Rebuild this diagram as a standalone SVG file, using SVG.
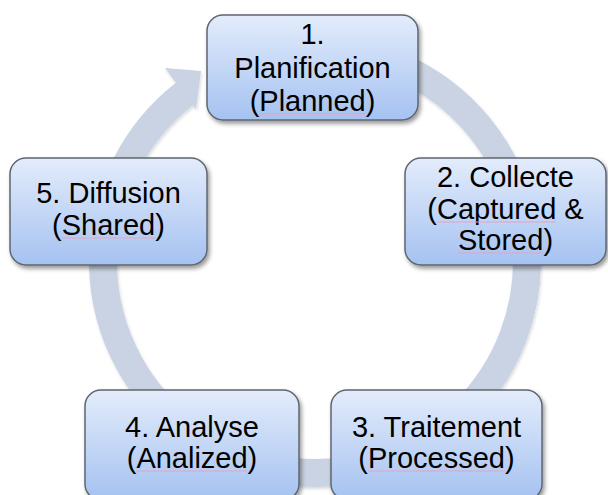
<svg xmlns="http://www.w3.org/2000/svg" width="608" height="495" viewBox="0 0 608 495">
<defs>
<linearGradient id="boxgrad" x1="0" y1="0" x2="0" y2="1">
<stop offset="0" stop-color="#e3ecfb"/>
<stop offset="1" stop-color="#a5c2f1"/>
</linearGradient>
<filter id="shadow" x="-10%" y="-10%" width="125%" height="130%">
<feDropShadow dx="2" dy="3" stdDeviation="2.2" flood-color="#000" flood-opacity="0.4"/>
</filter>
<filter id="ringshadow" x="-10%" y="-10%" width="120%" height="120%">
<feDropShadow dx="1" dy="2" stdDeviation="1.5" flood-color="#000" flood-opacity="0.15"/>
</filter>
</defs>
<style>
.box{fill:url(#boxgrad);stroke:#5f6670;stroke-width:1.5;filter:url(#shadow)}
.t{font-family:"Liberation Sans",Arial,sans-serif;font-size:29px;fill:#000;text-anchor:middle}
.sp{stroke:#e3a3bf;stroke-width:1;fill:none}
.ring{fill:none;stroke:#cad3e3;stroke-width:28}
.head{fill:#cad3e3}
</style>
<g id="connectors" filter="url(#ringshadow)">
<path class="ring" d="M333.5,49.8 A212,212 0 1 1 184.5,93.9"/>
<polygon class="head" points="193,105.5 196,109 201,71 165,68 176,83"/>
</g>
<g id="node1">
<rect class="box" x="207" y="15" width="211" height="105" rx="16"/>
<text class="t" x="312.5" y="44">1.</text>
<text class="t" x="312.5" y="78">Planification</text>
<text class="t" x="312.5" y="111">(Planned)</text>
<line class="sp" x1="259" y1="114" x2="366" y2="114"/>
</g>
<g id="node2">
<rect class="box" x="405" y="158" width="201" height="107" rx="16"/>
<text class="t" x="505.5" y="187">2. Collecte</text>
<text class="t" x="505.5" y="219">(Captured &amp;</text>
<text class="t" x="505.5" y="250">Stored)</text>
<line class="sp" x1="437" y1="222" x2="556" y2="222"/>
<line class="sp" x1="458" y1="253" x2="543" y2="253"/>
</g>
<g id="node3">
<rect class="box" x="331" y="390" width="211" height="110" rx="16"/>
<text class="t" x="436.5" y="437">3. Traitement</text>
<text class="t" x="436.5" y="468">(Processed)</text>
<line class="sp" x1="368" y1="471" x2="505" y2="471"/>
</g>
<g id="node4">
<rect class="box" x="85" y="390" width="214" height="110" rx="16"/>
<text class="t" x="192" y="437">4. Analyse</text>
<text class="t" x="192" y="468">(Analized)</text>
<line class="sp" x1="136" y1="471" x2="247" y2="471"/>
</g>
<g id="node5">
<rect class="box" x="10" y="158" width="197" height="107" rx="16"/>
<text class="t" x="108.5" y="203">5. Diffusion</text>
<text class="t" x="108.5" y="235">(Shared)</text>
<line class="sp" x1="62" y1="238" x2="155" y2="238"/>
</g>
</svg>
